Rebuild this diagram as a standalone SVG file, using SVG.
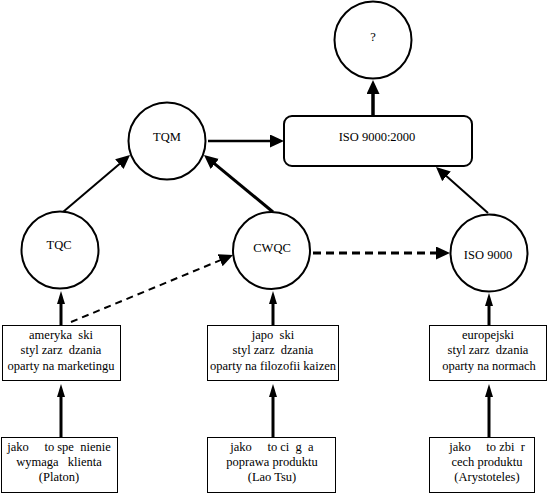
<svg xmlns="http://www.w3.org/2000/svg" width="548" height="494" viewBox="0 0 548 494">
<defs>
<style>
text{font-family:'Liberation Serif','Times New Roman','DejaVu Serif',serif;font-size:12.5px;fill:#000;text-anchor:middle;white-space:pre}
.c{fill:#fff;stroke:#000;stroke-width:2}
.b{fill:#fff;stroke:#000;stroke-width:1}
.e{fill:none;stroke:#000}
</style>
<marker id="big" markerUnits="userSpaceOnUse" markerWidth="16" markerHeight="14" refX="4" refY="6.5" orient="auto"><path d="M0,0 L14,6.5 L0,13 Z" fill="#000"/></marker>
<marker id="sm" markerUnits="userSpaceOnUse" markerWidth="14" markerHeight="10" refX="3" refY="4" orient="auto"><path d="M0,0 L13,4 L0,8 Z" fill="#000"/></marker>
</defs>
<rect width="548" height="494" fill="#fff"/>
<g id="connectors">
<line class="e" x1="63" y1="212" x2="122.4" y2="161.5" stroke-width="2" marker-end="url(#big)"/>
<line class="e" x1="273" y1="212" x2="211.7" y2="161.4" stroke-width="3" marker-end="url(#big)"/>
<line class="e" x1="208" y1="141" x2="274" y2="141" stroke-width="2.5" marker-end="url(#big)"/>
<line class="e" x1="373" y1="116" x2="373" y2="90" stroke-width="3.5" marker-end="url(#big)"/>
<line class="e" x1="488" y1="213" x2="443.5" y2="173.6" stroke-width="2" marker-end="url(#big)"/>
<line class="e" x1="313" y1="253" x2="440" y2="253" stroke-width="3" stroke-dasharray="8 5" marker-end="url(#big)"/>
<line class="e" x1="71" y1="322" x2="223.8" y2="258.8" stroke-width="2" stroke-dasharray="7 5" marker-end="url(#big)"/>
<line class="e" x1="61" y1="437" x2="61" y2="394" stroke-width="3" marker-end="url(#sm)"/>
<line class="e" x1="61" y1="325" x2="61" y2="301" stroke-width="3" marker-end="url(#sm)"/>
<line class="e" x1="273" y1="437" x2="273" y2="394" stroke-width="3" marker-end="url(#sm)"/>
<line class="e" x1="273" y1="325" x2="273" y2="301" stroke-width="3" marker-end="url(#sm)"/>
<line class="e" x1="489" y1="437" x2="489" y2="394" stroke-width="3" marker-end="url(#sm)"/>
<line class="e" x1="489" y1="325" x2="489" y2="303" stroke-width="3" marker-end="url(#sm)"/>
</g>
<g id="q"><circle class="c" cx="373" cy="40" r="38.5"/><text x="373" y="41">?</text></g>
<g id="tqm"><circle class="c" cx="167" cy="141" r="38.5"/><text x="167" y="141">TQM</text></g>
<g id="iso2000"><rect class="c" x="284" y="116" width="188" height="50" rx="8"/><text x="377" y="141">ISO 9000:2000</text></g>
<g id="tqc"><circle class="c" cx="60" cy="250" r="38.5"/><text x="59" y="249">TQC</text></g>
<g id="cwqc"><circle class="c" cx="271.5" cy="250.5" r="38.5"/><text x="272" y="252">CWQC</text></g>
<g id="iso9000"><circle class="c" cx="489" cy="253" r="38.5"/><text x="488" y="259">ISO 9000</text></g>
<g id="us"><rect class="b" x="2.5" y="325.5" width="118" height="55"/>
<text x="61" y="339">ameryka  ski</text><text x="61" y="354">styl zarz  dzania</text><text x="61" y="370">oparty na marketingu</text></g>
<g id="jp"><rect class="b" x="207.5" y="325.5" width="131" height="55"/>
<text x="273" y="339">japo  ski</text><text x="273" y="354">styl zarz  dzania</text><text x="273" y="370">oparty na filozofii kaizen</text></g>
<g id="eu"><rect class="b" x="429.5" y="325.5" width="117" height="55"/>
<text x="488" y="339">europejski</text><text x="488" y="354">styl zarz  dzania</text><text x="489" y="370">oparty na normach</text></g>
<g id="platon"><rect class="b" x="1.5" y="437.5" width="116" height="55"/>
<text x="59" y="451">jako     to spe  nienie</text><text x="59" y="466">wymaga   klienta</text><text x="59" y="481">(Platon)</text></g>
<g id="laotsu"><rect class="b" x="207.5" y="437.5" width="128" height="55"/>
<text x="272" y="451">jako     to ci  g  a</text><text x="272" y="466">poprawa produktu</text><text x="272" y="481">(Lao Tsu)</text></g>
<g id="arystoteles"><rect class="b" x="429.5" y="437.5" width="105" height="55"/>
<text x="487" y="451">jako     to zbi  r</text><text x="487" y="466">cech produktu</text><text x="487" y="481">(Arystoteles)</text></g>
</svg>
